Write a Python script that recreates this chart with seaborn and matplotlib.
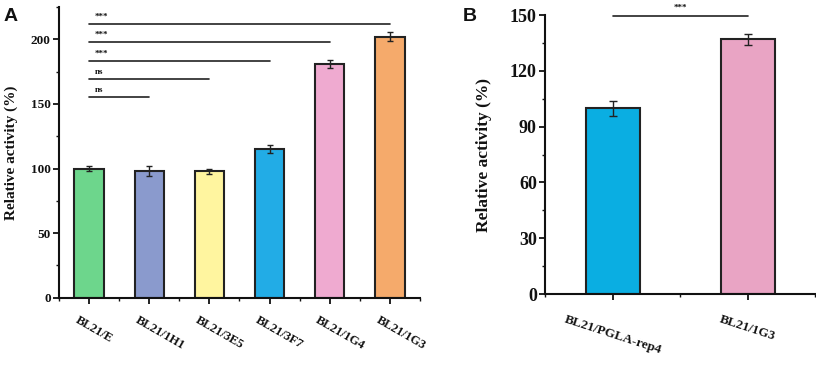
import matplotlib
matplotlib.use("Agg")
import numpy as np
import pandas as pd
import seaborn as sns
import matplotlib.pyplot as plt
from matplotlib.ticker import MultipleLocator
from matplotlib.transforms import ScaledTranslation

# panel A data
strains_a = ["BL21/E", "BL21/1H1", "BL21/3E5", "BL21/3F7", "BL21/1G4", "BL21/1G3"]
activity_a = [100, 98, 98, 115, 181, 202]
err_a = [2.3, 3.7, 2.0, 3.3, 3.3, 3.4]
colors_a = ["#6DD68C", "#8A9ACD", "#FFF59F", "#22ACE6", "#EFAAD0", "#F5AA6B"]
sig_a = ["ns", "ns", "***", "***", "***"]
sig_y_a = [155, 169, 183, 198, 212]

# panel B data
strains_b = ["BL21/PGLA-rep4", "BL21/1G3"]
activity_b = [100, 137]
err_b = [4.0, 3.0]
colors_b = ["#0AAEE2", "#E9A4C4"]
sig_b = "***"
sig_y_b = 149.5

sns.set_style("ticks")
plt.rcParams["font.family"] = ["Liberation Serif", "DejaVu Serif"]
plt.rcParams["font.weight"] = "bold"
plt.rcParams["axes.linewidth"] = 1.5
plt.rcParams["xtick.major.width"] = 1.3
plt.rcParams["ytick.major.width"] = 1.3
plt.rcParams["ytick.minor.width"] = 1.0
plt.rcParams["xtick.minor.width"] = 1.0
plt.rcParams["text.color"] = "#111111"
plt.rcParams["axes.labelcolor"] = "#111111"
plt.rcParams["xtick.color"] = "#111111"
plt.rcParams["ytick.color"] = "#111111"
plt.rcParams["axes.edgecolor"] = "#111111"

fig = plt.figure(figsize=(8.16, 3.68), dpi=100)
ax_a = fig.add_axes([0.0723, 0.191, 0.4424, 0.79])
ax_b = fig.add_axes([0.668, 0.201, 0.331, 0.758])

df_a = pd.DataFrame({"strain": strains_a, "activity": activity_a})
sns.barplot(data=df_a, x="strain", y="activity", hue="strain", palette=colors_a,
            saturation=1, width=0.49, edgecolor="#222222", linewidth=1.5,
            legend=False, ax=ax_a)
ax_a.errorbar(range(len(strains_a)), activity_a, yerr=err_a, fmt="none",
              ecolor="#222222", elinewidth=1, capsize=2.5, capthick=1)
ax_a.set_xlim(-0.5, 5.5)
ax_a.set_ylim(0, 225)
ax_a.yaxis.set_major_locator(MultipleLocator(50))
ax_a.yaxis.set_minor_locator(MultipleLocator(25))
ax_a.xaxis.set_minor_locator(MultipleLocator(1, offset=0.5))
ax_a.tick_params(axis="y", labelsize=9.5, length=4, pad=2)
ax_a.tick_params(axis="y", which="minor", length=2.5)
ax_a.tick_params(axis="x", which="major", length=4, pad=8)
ax_a.tick_params(axis="x", which="minor", length=2.5)
ax_a.set_xlabel("")
ax_a.set_ylabel("Relative activity (%)", fontsize=11, fontweight="bold", labelpad=9)
shift = ScaledTranslation(-0.1, 0, fig.dpi_scale_trans)
for lab in ax_a.get_xticklabels():
    lab.set_rotation(-30)
    lab.set_ha("left")
    lab.set_va("top")
    lab.set_rotation_mode("anchor")
    lab.set_fontsize(9)
    lab.set_fontweight("bold")
    lab.set_transform(lab.get_transform() + shift)
for lab in ax_a.get_yticklabels():
    lab.set_fontweight("bold")
for i, (txt, yv) in enumerate(zip(sig_a, sig_y_a)):
    ax_a.plot([0, i + 1], [yv, yv], color="#222222", lw=1.2)
    ax_a.text(0.1, yv + 2.5, txt, fontsize=6.5, fontweight="bold", ha="left", va="bottom")
sns.despine(ax=ax_a)

df_b = pd.DataFrame({"strain": strains_b, "activity": activity_b})
sns.barplot(data=df_b, x="strain", y="activity", hue="strain", palette=colors_b,
            saturation=1, width=0.4, edgecolor="#222222", linewidth=1.5,
            legend=False, ax=ax_b)
ax_b.errorbar(range(len(strains_b)), activity_b, yerr=err_b, fmt="none",
              ecolor="#222222", elinewidth=1, capsize=3, capthick=1)
ax_b.set_xlim(-0.5, 1.5)
ax_b.set_ylim(0, 150)
ax_b.yaxis.set_major_locator(MultipleLocator(30))
ax_b.yaxis.set_minor_locator(MultipleLocator(15))
ax_b.xaxis.set_minor_locator(MultipleLocator(1, offset=0.5))
ax_b.tick_params(axis="y", labelsize=13, length=4, pad=2)
ax_b.tick_params(axis="y", which="minor", length=2.5)
ax_b.tick_params(axis="x", which="major", length=4, pad=10)
ax_b.tick_params(axis="x", which="minor", length=2.5)
ax_b.set_xlabel("")
ax_b.set_ylabel("Relative activity (%)", fontsize=12.5, fontweight="bold", labelpad=13)
for lab in ax_b.get_xticklabels():
    lab.set_rotation(-18)
    lab.set_ha("center")
    lab.set_fontsize(9.5)
    lab.set_fontweight("bold")
for lab in ax_b.get_yticklabels():
    lab.set_fontweight("bold")
ax_b.plot([0, 1], [sig_y_b, sig_y_b], color="#222222", lw=1.2, clip_on=False)
ax_b.text(0.5, sig_y_b + 2.5, sig_b, fontsize=6.5, fontweight="bold", ha="center",
          va="bottom", clip_on=False)
sns.despine(ax=ax_b)

fig.text(0.004, 0.955, "A", fontsize=14, fontweight="bold", family="Liberation Sans", va="center")
fig.text(0.567, 0.955, "B", fontsize=14, fontweight="bold", family="Liberation Sans", va="center")

fig.savefig("out.png", dpi=100)
plt.close(fig)
